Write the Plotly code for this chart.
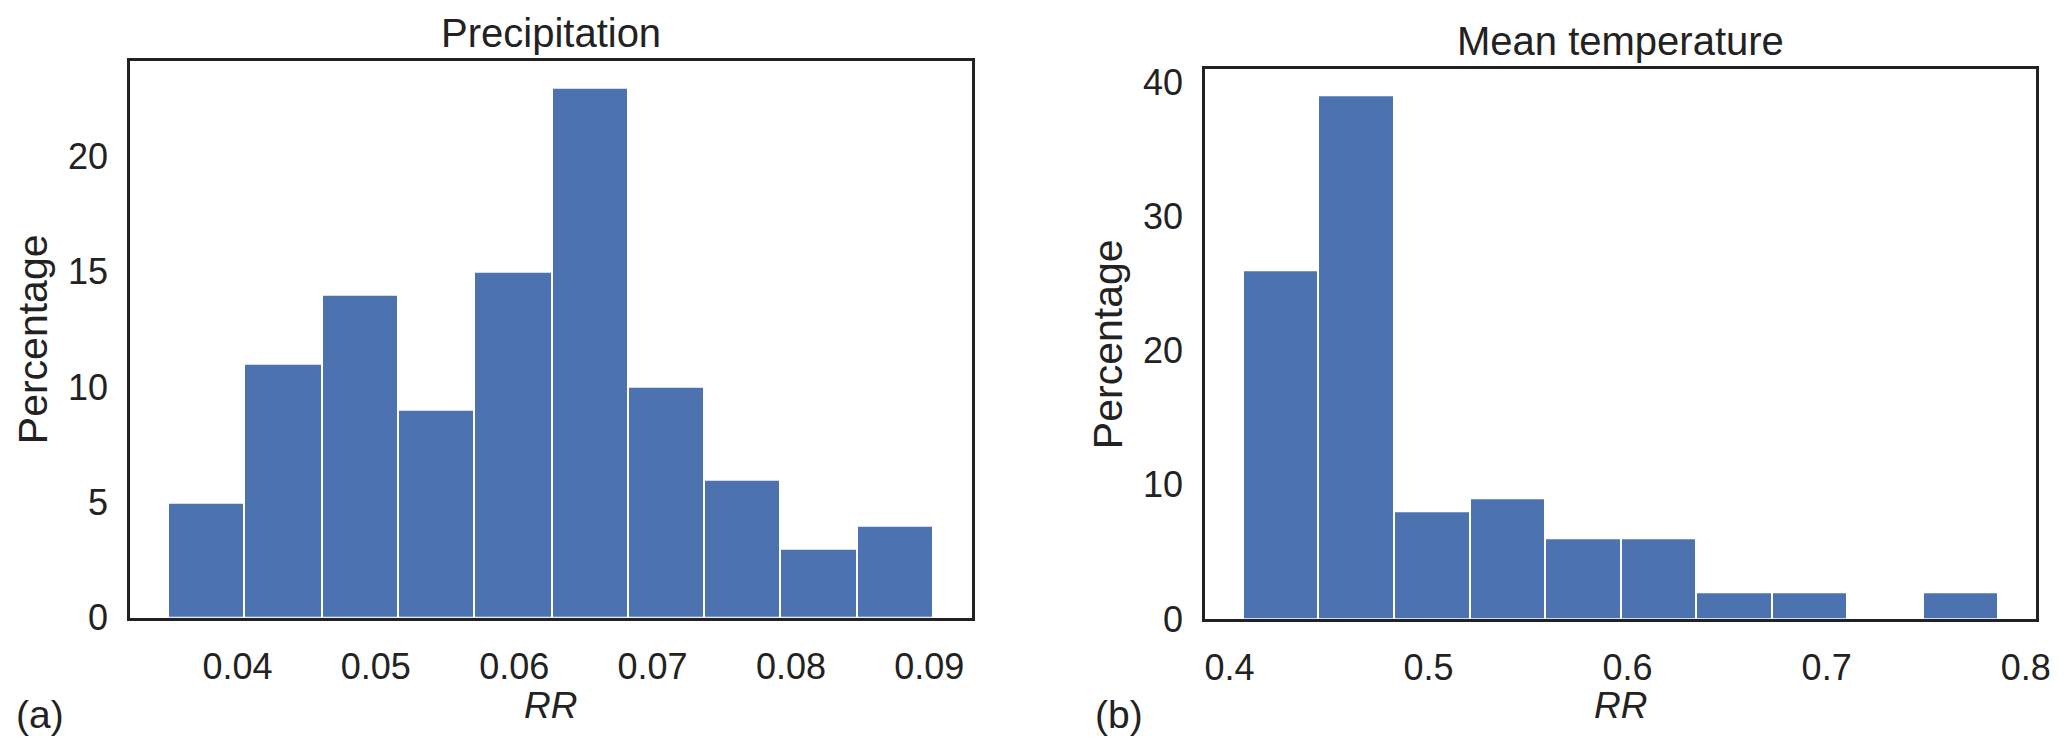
import plotly.graph_objects as go

# histogram data (bin edges and percentages)
precip_edges = [0.0350, 0.0405, 0.0461, 0.0516, 0.0571, 0.0627, 0.0682, 0.0737, 0.0792, 0.0848, 0.0903]
precip_pct = [5, 11, 14, 9, 15, 23, 10, 6, 3, 4]

temp_edges = [0.4067, 0.4447, 0.4826, 0.5206, 0.5585, 0.5965, 0.6344, 0.6724, 0.7103, 0.7483, 0.7862]
temp_pct = [26, 39, 8, 9, 6, 6, 2, 2, 0, 2]

precip_ticks = [0.04, 0.05, 0.06, 0.07, 0.08, 0.09]
temp_ticks = [0.4, 0.5, 0.6, 0.7, 0.8]

titles = ["Precipitation", "Mean temperature"]
panel_tags = ["(a)", "(b)"]

W, H = 2067, 751
OFF = 8  # default body margin of the html page
FW, FH = W - 2 * OFF, H - 2 * OFF
BLUE = "#4C72B0"
INK = "#222222"
FONT = "Liberation Sans, Arial, sans-serif"


def px(x):
    return (x - OFF) / FW


def py(y):
    return (FH - (y - OFF)) / FH


def hist_bar(edges, pct):
    centers = [(a + b) / 2 for a, b in zip(edges[:-1], edges[1:])]
    widths = [b - a for a, b in zip(edges[:-1], edges[1:])]
    return go.Bar(
        x=centers, y=pct, width=widths,
        marker=dict(color=BLUE, line=dict(color="white", width=2)),
        showlegend=False,
    )


def padded(edges):
    span = edges[-1] - edges[0]
    return [edges[0] - 0.05 * span, edges[-1] + 0.05 * span]


fig = go.Figure()
fig.add_trace(hist_bar(precip_edges, precip_pct))
t2 = hist_bar(temp_edges, temp_pct)
t2.update(xaxis="x2", yaxis="y2")
fig.add_trace(t2)

axis_common = dict(
    showline=True, mirror=True, linecolor=INK, linewidth=2.5,
    showgrid=False, zeroline=False, ticks="", automargin=False,
    tickfont=dict(family=FONT, size=36, color=INK),
)

# page-pixel boxes of the two panels (left, right, top, bottom)
left_box = (130, 971.7, 60.7, 617.7)
right_box = (1205, 2036, 69.3, 619)


def dom_x(b):
    return [px(b[0]), px(b[1])]


def dom_y(b):
    return [py(b[3]), py(b[2])]


fig.update_layout(
    width=FW, height=FH,
    margin=dict(l=0, r=0, t=0, b=0, pad=0),
    paper_bgcolor="white", plot_bgcolor="white",
    bargap=0,
    xaxis=dict(domain=dom_x(left_box), range=padded(precip_edges),
               tickvals=precip_ticks, tickformat=".2f", ticklabelstandoff=15, anchor="y", **axis_common),
    yaxis=dict(domain=dom_y(left_box), range=[0, max(precip_pct) * 1.05],
               dtick=5, ticklabelstandoff=12, anchor="x", **axis_common),
    xaxis2=dict(domain=dom_x(right_box), range=padded(temp_edges),
                tickvals=temp_ticks, tickformat=".1f", ticklabelstandoff=15, anchor="y2", **axis_common),
    yaxis2=dict(domain=dom_y(right_box), range=[0, max(temp_pct) * 1.05],
                dtick=10, ticklabelstandoff=12, anchor="x2", **axis_common),
)

annots = []
panels = [(left_box, titles[0], panel_tags[0], 40), (right_box, titles[1], panel_tags[1], 1119)]
for box, title, tag, tag_x in panels:
    cx = (box[0] + box[1]) / 2
    cy = (box[2] + box[3]) / 2
    annots.append(dict(text=title, x=px(cx), y=py(box[2] - 28),
                       font=dict(family=FONT, size=40, color=INK)))
    annots.append(dict(text="Percentage", x=px(box[0] - 97), y=py(cy), textangle=-90,
                       font=dict(family=FONT, size=41, color=INK)))
    annots.append(dict(text="<i>RR</i>", x=px(cx), y=py(705),
                       font=dict(family=FONT, size=37, color=INK)))
    annots.append(dict(text=tag, x=px(tag_x), y=py(714),
                       font=dict(family=FONT, size=39, color=INK)))

for a in annots:
    a.update(xref="paper", yref="paper", showarrow=False, xanchor="center", yanchor="middle")
fig.update_layout(annotations=annots)

fig.write_html("out.html")
